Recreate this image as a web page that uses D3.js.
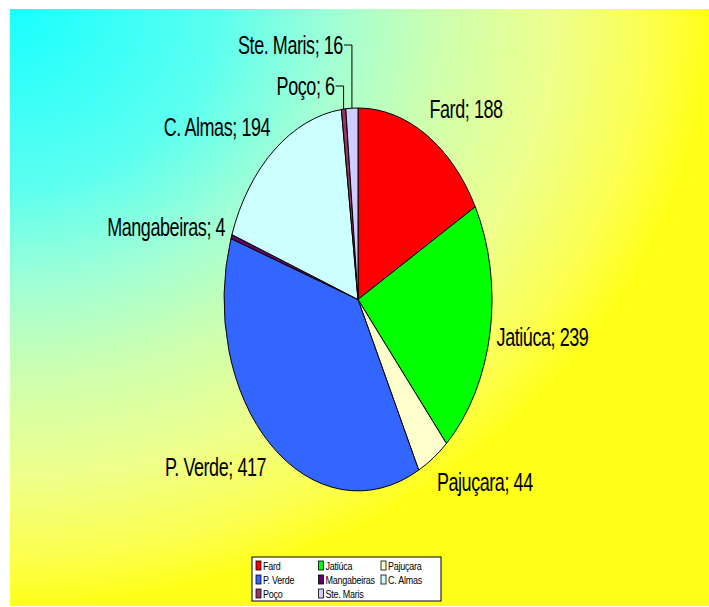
<!DOCTYPE html>
<meta charset="utf-8">
<title>Pie</title>
<style>
  body { margin: 0; background: #fff; }
  text { font-family: "Liberation Sans", Arial, sans-serif; fill: #000; }
</style>
<body>
<div id="chart"></div>
<script src="https://d3js.org/d3.v7.min.js"></script>
<script>

  // data
  const categories = ["Fard", "Jatiúca", "Pajuçara", "P. Verde", "Mangabeiras", "C. Almas", "Poço", "Ste. Maris"];
  const values = [188, 239, 44, 417, 4, 194, 6, 16];
  const colors = ["#FF0000", "#00FF00", "#FFFFCC", "#3366FF", "#660066", "#CCFFFF", "#993366", "#CCCCFF"];

  const W = 709, H = 607;
  const cx = 358, cy = 299.5, rx = 134, ry = 191.5;

  const svg = d3.select("#chart").append("svg")
      .attr("width", W)
      .attr("height", H);

  // background: corner gradient cyan -> yellow
  const defs = svg.append("defs");
  const grad = defs.append("radialGradient")
      .attr("id", "bg")
      .attr("cx", 0).attr("cy", 0).attr("r", 1)
      .attr("fx", 0).attr("fy", 0);
  [[0, "#18FFFF"], [0.3, "#5CFFF0"], [0.46, "#A0FFD6"], [0.62, "#CEFFAE"],
   [0.78, "#EEFF8C"], [0.92, "#FCFF4C"], [1, "#FFFF18"]].forEach(s => {
    grad.append("stop").attr("offset", s[0]).attr("stop-color", s[1]);
  });

  svg.append("rect")
      .attr("x", 10).attr("y", 9)
      .attr("width", W - 10).attr("height", 597)
      .attr("fill", "url(#bg)");

  const data = categories.map((c, i) => ({name: c, value: values[i], color: colors[i]}));
  const pie = d3.pie().sort(null).value(d => d.value);
  const arcs = pie(data);
  const arc = d3.arc().innerRadius(0).outerRadius(1);

  // pie is a unit circle stretched into an ellipse
  svg.append("g")
      .attr("transform", `translate(${cx},${cy}) scale(${rx},${ry})`)
    .selectAll("path")
    .data(arcs)
    .join("path")
      .attr("d", arc)
      .attr("fill", d => d.data.color)
      .attr("stroke", "#000")
      .attr("stroke-width", 1)
      .attr("vector-effect", "non-scaling-stroke");

  // labels
  const labels = svg.append("g");
  let stack = 0;
  arcs.forEach(d => {
    const a = (d.startAngle + d.endAngle) / 2;
    const s = Math.sin(a), c = Math.cos(a);
    const txt = `${d.data.name}; ${d.data.value}`;
    let x, y, anchor;
    if (a > 2 * Math.PI - 10 * Math.PI / 180) {
      // small slices at the top get a leader line
      const lx = cx + rx * s;
      const ey = cy - ry * c;
      const ly = cy - ry - 22 - 41 * stack;
      stack++;
      labels.append("path")
          .attr("d", `M${lx - 8},${ly}H${lx}V${ey}`)
          .attr("fill", "none")
          .attr("stroke", "#000")
          .attr("stroke-width", 1);
      x = lx - 9; y = ly; anchor = "end";
    } else {
      x = cx + rx * 1.05 * s;
      y = cy - ry * 1.1 * c - 10 * c;
      anchor = s >= 0 ? "start" : "end";
    }
    labels.append("text")
        .attr("transform", `translate(${x},${y}) scale(0.72,1)`)
        .attr("text-anchor", anchor)
        .attr("dy", "0.36em")
        .attr("font-size", 25)
        .attr("letter-spacing", -0.6)
        .text(txt);
  });

  // legend
  const lg = svg.append("g").attr("transform", "translate(252,557)");
  lg.append("rect")
      .attr("width", 189).attr("height", 44)
      .attr("fill", "#fff")
      .attr("stroke", "#000")
      .attr("stroke-width", 1);
  const item = lg.selectAll("g.item")
    .data(data)
    .join("g")
      .attr("class", "item")
      .attr("transform", (d, i) => `translate(${4 + (i % 3) * 62.5},${4 + Math.floor(i / 3) * 14})`);
  item.append("rect")
      .attr("width", 5).attr("height", 9)
      .attr("fill", d => d.color)
      .attr("stroke", "#000")
      .attr("stroke-width", 0.8);
  item.append("text")
      .attr("transform", "translate(7,4.5) scale(0.78,1)")
      .attr("dy", "0.36em")
      .attr("font-size", 11.5)
      .attr("letter-spacing", -0.3)
      .text(d => d.name);

</script>
</body>
